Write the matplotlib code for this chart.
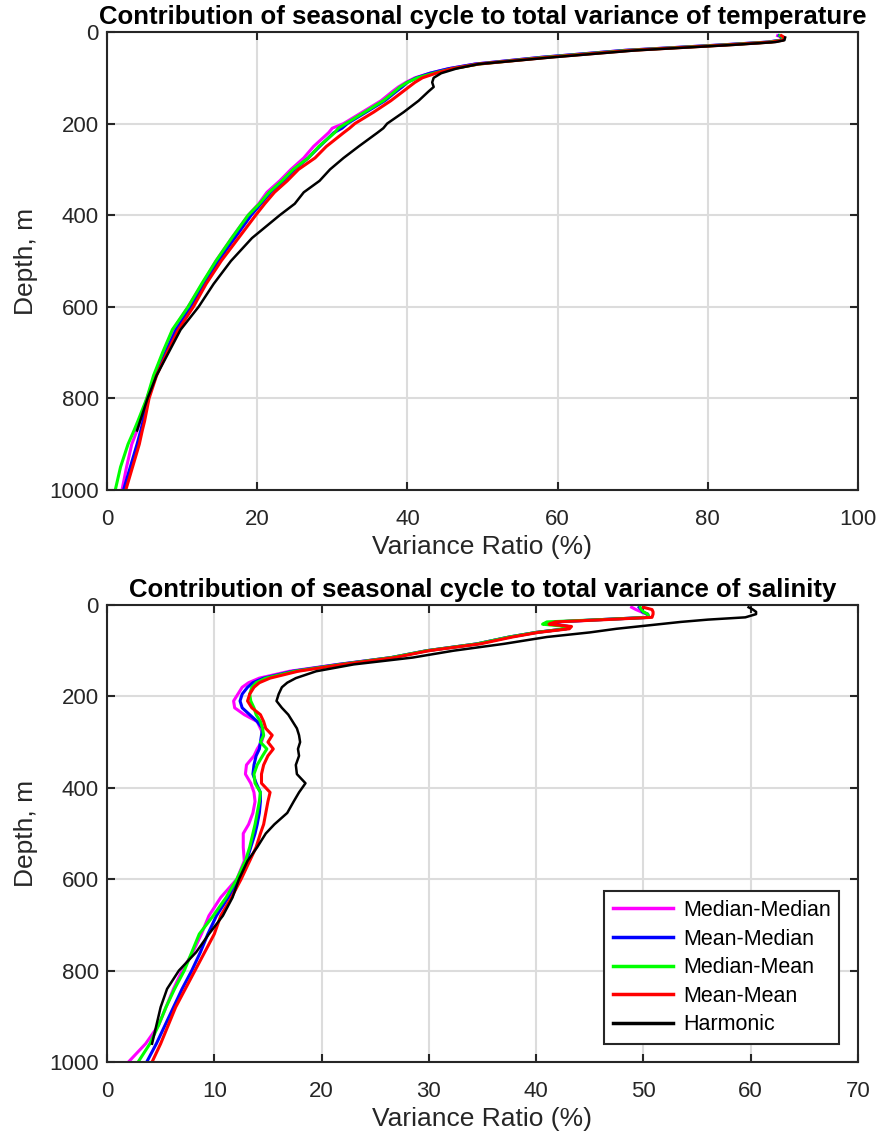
import numpy as np
import matplotlib
matplotlib.use("Agg")
import matplotlib.pyplot as plt

plt.rcParams['font.family'] = ['Liberation Sans', 'DejaVu Sans']

series_names = ['Median-Median', 'Mean-Median', 'Median-Mean', 'Mean-Mean', 'Harmonic']
series_colors = ['#ff00ff', '#0000ff', '#00ff00', '#ff0000', '#000000']

# temperature panel
depth_t = [8, 12, 18, 22, 28, 40, 55, 70, 80, 90, 100, 110, 120, 130, 150, 175, 200, 210, 220,
           250, 275, 300, 325, 350, 375, 400, 450, 500, 550, 600, 650, 700, 750, 800, 850, 870,
           900, 950, 1000]
temp_medmed = [89.3, 90.0, 89.6, 88.0, 82.0, 69.0, 58.0, 49.0, 45.5, 43.0, 41.0, 39.8, 38.8, 38.0,
               36.5, 34.0, 31.5, 30.0, 29.5, 27.5, 26.2, 24.5, 23.0, 21.3, 20.2, 18.8, 16.6, 14.5,
               12.7, 10.8, 8.8, 7.5, 6.4, 5.3, 4.4, 4.0, 3.3, 2.6, 2.0]
temp_meanmed = [89.5, 90.0, 89.7, 88.0, 82.0, 69.0, 58.0, 49.0, 45.5, 43.0, 41.2, 40.0, 39.3, 38.5,
                37.0, 34.5, 32.0, 31.3, 30.2, 28.3, 26.8, 25.0, 23.5, 21.8, 20.5, 19.2, 17.0, 14.8,
                13.0, 11.2, 9.2, 7.8, 6.5, 5.4, 4.8, 4.5, 4.0, 3.1, 2.2]
temp_medmean = [89.6, 90.1, 89.8, 88.2, 82.5, 69.5, 58.5, 49.5, 46.0, 43.5, 41.3, 40.0, 39.0, 38.3,
                36.8, 34.3, 31.8, 30.8, 30.3, 28.2, 26.8, 24.8, 23.3, 21.6, 20.3, 18.8, 16.6, 14.5,
                12.6, 10.8, 8.7, 7.4, 6.2, 5.3, 4.1, 3.6, 2.8, 1.8, 1.1]
temp_meanmean = [89.8, 90.2, 90.0, 88.5, 83.0, 70.0, 59.0, 49.5, 46.0, 43.8, 42.0, 41.0, 40.2, 39.4,
                 37.8, 35.5, 33.0, 32.3, 31.5, 29.2, 27.7, 25.5, 24.0, 22.3, 21.0, 19.8, 17.5, 15.2,
                 13.2, 11.5, 9.5, 8.0, 6.6, 5.6, 5.0, 4.7, 4.3, 3.4, 2.5]
temp_harmonic = [np.nan, 90.3, 90.2, 89.0, 83.5, 70.5, 59.5, 49.5, 46.5, 44.5, 43.5, 43.3, 43.5, 42.8,
                 41.5, 39.5, 37.3, 36.8, 36.0, 33.5, 31.5, 29.7, 28.3, 26.2, 25.0, 23.0, 19.3, 16.5,
                 14.2, 12.2, 9.8, 8.2, 6.6, 5.4, 4.4, 4.0, np.nan, np.nan, np.nan]

# salinity panel
depth_s = [5, 10, 15, 20, 27, 32, 37, 42, 47, 52, 60, 70, 85, 100, 115, 130, 145, 160, 170, 180,
           195, 210, 225, 240, 255, 270, 285, 300, 315, 330, 350, 370, 390, 410, 430, 455, 480,
           500, 530, 560, 600, 640, 680, 720, 760, 800, 840, 880, 920, 960, 1000]
sal_medmed = [48.9, 49.3, 49.8, 50.3, 50.5, 46.0, 42.0, 41.5, 43.0, 42.8, 40.0, 37.5, 34.5, 29.8,
              26.5, 21.5, 17.0, 14.2, 13.2, 12.6, 12.2, 11.8, 11.9, 12.8, 14.0, 14.3, 14.6, 14.4,
              14.0, 13.7, 13.0, 12.9, 13.4, 13.7, 13.8, 13.6, 13.2, 12.7, 12.7, 12.8, 12.1, 10.6,
              9.5, 8.8, 8.0, 7.0, 6.2, 5.5, 4.8, 3.6, 2.0]
sal_meanmed = [49.6, 49.8, 49.9, 50.4, 50.5, 46.0, 41.8, 41.5, 43.0, 42.8, 40.0, 37.5, 34.5, 29.8,
               26.5, 21.6, 17.3, 14.6, 13.6, 13.1, 12.6, 12.4, 12.6, 13.3, 14.0, 14.5, 14.4, 14.3,
               14.2, 13.9, 13.7, 13.6, 13.9, 14.3, 14.3, 14.2, 14.0, 13.8, 13.4, 13.0, 12.3, 11.3,
               10.2, 9.4, 8.7, 7.9, 7.0, 6.2, 5.4, 4.6, 3.7]
sal_medmean = [49.7, 49.8, 50.0, 50.4, 50.5, 46.0, 41.0, 40.6, 42.8, 42.8, 40.0, 37.5, 34.5, 29.8,
               26.5, 21.8, 17.5, 14.8, 13.9, 13.5, 13.3, 13.4, 13.7, 13.9, 14.3, 14.5, 14.6, 14.3,
               14.9, 14.5, 14.0, 13.7, 13.8, 14.3, 14.2, 14.0, 13.8, 13.6, 13.3, 12.9, 12.1, 11.1,
               9.9, 8.6, 7.9, 7.2, 6.3, 5.5, 4.8, 4.0, 2.9]
sal_meanmean = [50.0, 50.8, 50.9, 50.9, 50.8, 46.5, 41.8, 41.2, 43.3, 43.1, 40.2, 37.8, 34.8, 30.0,
                26.8, 22.0, 17.8, 15.2, 14.2, 13.7, 13.3, 13.1, 13.5, 14.3, 14.6, 14.8, 15.4, 15.0,
                15.5, 15.0, 14.6, 14.4, 14.4, 15.2, 15.0, 14.8, 14.6, 14.3, 13.9, 13.3, 12.5, 11.6,
                10.6, 10.0, 9.1, 8.2, 7.3, 6.4, 5.7, 5.0, 4.2]
sal_harmonic = [59.8, 60.2, 60.5, 60.5, 59.5, 56.0, 53.5, 51.5, 49.5, 47.5, 45.0, 41.0, 37.0, 32.3,
                28.5, 23.0, 19.5, 17.6, 16.8, 16.3, 16.0, 15.8, 16.3, 16.9, 17.3, 17.7, 17.9, 18.0,
                17.8, 17.9, 17.6, 17.7, 18.5, 17.9, 17.4, 16.8, 15.6, 14.8, 14.0, 13.1, 12.3, 11.7,
                10.8, 9.5, 8.3, 6.7, 5.6, 5.0, 4.6, 4.2, np.nan]

temp_series = [temp_medmed, temp_meanmed, temp_medmean, temp_meanmean, temp_harmonic]
sal_series = [sal_medmed, sal_meanmed, sal_medmean, sal_meanmean, sal_harmonic]

fig = plt.figure(figsize=(8.78, 11.37), dpi=100)
ax1 = fig.add_axes([107/878, 1 - 490/1137, 751/878, 458/1137])
ax2 = fig.add_axes([107/878, 1 - 1062/1137, 751/878, 457/1137])

dark = '#262626'


def style_axes(ax, xmax, xticks, title):
    ax.set_xlim(0, xmax)
    ax.set_ylim(1000, 0)
    ax.set_xticks(xticks)
    ax.set_yticks([0, 200, 400, 600, 800, 1000])
    ax.grid(True, color='#dcdcdc', linewidth=1.5)
    ax.set_axisbelow(True)
    ax.tick_params(direction='in', length=6, width=1.5, colors=dark, labelsize=16,
                   top=True, right=True)
    ax.tick_params(axis='x', pad=14)
    ax.tick_params(axis='y', pad=6)
    for sp in ax.spines.values():
        sp.set_linewidth(1.5)
        sp.set_color(dark)
    ax.set_xlabel('Variance Ratio (%)', fontsize=19, color=dark, labelpad=3)
    ax.set_ylabel('Depth, m', fontsize=19, color=dark, labelpad=8)
    ax.set_title(title, fontsize=18.5, fontweight='bold', pad=6)


for vals, name, col in zip(temp_series, series_names, series_colors):
    lw = 1.8 if col == '#000000' else 2.2
    ax1.plot(vals, depth_t, color=col, linewidth=lw, label=name)
for vals, name, col in zip(sal_series, series_names, series_colors):
    lw = 1.8 if col == '#000000' else 2.2
    ax2.plot(vals, depth_s, color=col, linewidth=lw, label=name)

style_axes(ax1, 100, [0, 20, 40, 60, 80, 100],
           'Contribution of seasonal cycle to total variance of temperature')
style_axes(ax2, 70, [0, 10, 20, 30, 40, 50, 60, 70],
           'Contribution of seasonal cycle to total variance of salinity')

leg = ax2.legend(loc='lower right', bbox_to_anchor=(0.975, 0.04), fontsize=15.5,
                 fancybox=False, framealpha=1, edgecolor=dark, borderaxespad=0,
                 handlelength=2.8, handletextpad=0.45, labelspacing=0.35, borderpad=0.4)
leg.get_frame().set_linewidth(1.5)
for line in leg.get_lines():
    line.set_linewidth(2.5)

fig.savefig('out.png', dpi=100)
